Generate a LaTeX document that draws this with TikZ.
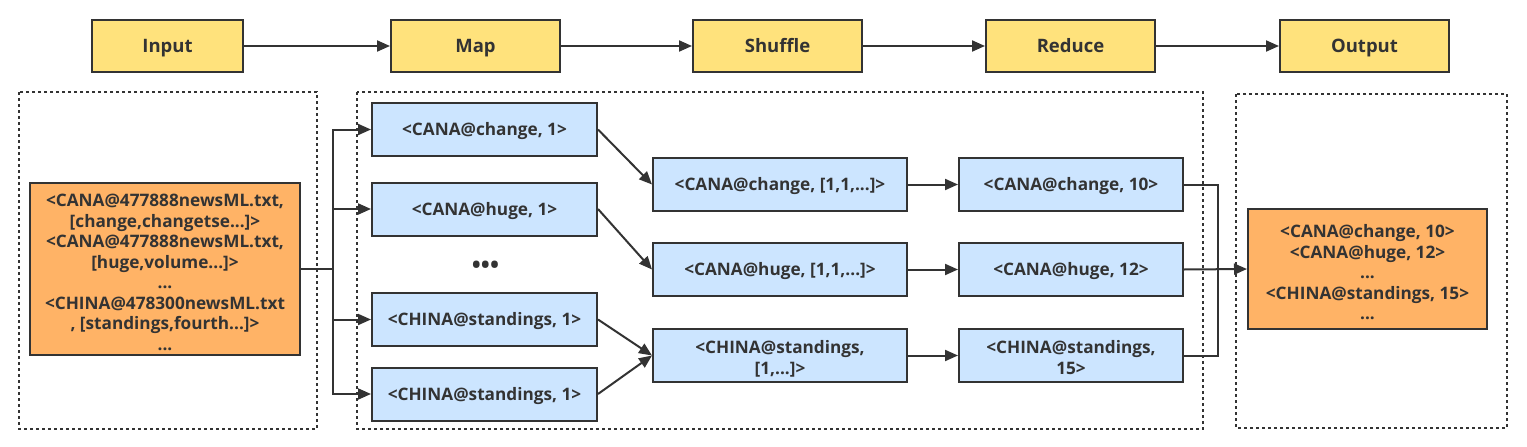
\documentclass[tikz,border=0pt]{standalone}
\usepackage{fontspec}
\setmainfont{Open Sans}
\usetikzlibrary{arrows.meta}
\definecolor{ylw}{HTML}{FFE27C}
\definecolor{org}{HTML}{FFB366}
\definecolor{blu}{HTML}{CCE5FF}
\definecolor{edge}{HTML}{333333}
\newcommand\tstrut[1]{\rule{0pt}{#1}}
\tikzset{
  base/.style={draw=edge, line width=2pt, text=edge, font=\bfseries\fontsize{17.2}{20.5}\selectfont, align=center, inner sep=0pt, anchor=center},
  oneline/.style={text height=12.3pt, text depth=-2.2pt},
  ybox/.style={base, fill=ylw, minimum height=52pt, font=\bfseries\fontsize{18.5}{22}\selectfont, text height=13.2pt, text depth=-2pt},
  obox/.style={base, fill=org},
  bbox/.style={base, fill=blu, minimum height=53pt},
  group/.style={draw=edge, line width=2pt, dash pattern=on 3pt off 3pt},
  conn/.style={draw=edge, line width=2pt},
  arr/.style={conn, -{Triangle[length=13pt,width=11pt]}},
}
\begin{document}
\begin{tikzpicture}[x=1pt,y=-1pt]
\useasboundingbox (0,0) rectangle (1527,447);
% groups
\draw[group] (19,92) rectangle (317,429);
\draw[group] (357,92) rectangle (1203,429);
\draw[group] (1236,94) rectangle (1507,428);
% top row
\node[ybox, minimum width=151pt] (tin) at (167.5,46) {Input};
\node[ybox, minimum width=169pt] (tmap) at (475.5,46) {Map};
\node[ybox, minimum width=169pt] (tsh) at (777.5,46) {Shuffle};
\node[ybox, minimum width=169pt] (tred) at (1070.5,46) {Reduce};
\node[ybox, minimum width=169pt] (tout) at (1364.5,46) {Output};
\draw[arr] (tin) -- (tmap);
\draw[arr] (tmap) -- (tsh);
\draw[arr] (tsh) -- (tred);
\draw[arr] (tred) -- (tout);
% input
\node[obox, minimum width=270pt, minimum height=172pt] (inL) at (165,269) {\tstrut{19.5pt}<CANA@477888newsML.txt,\\ {[}change,changetse...{]}>\\ <CANA@477888newsML.txt,\\ {[}huge,volume...{]}>\\ ...\\ <CHINA@478300newsML.txt\\ , {[}standings,fourth...{]}>\\ ...};
% map
\node[bbox, oneline, minimum width=225pt] (m1) at (484.5,129.5) {<CANA@change, 1>};
\node[bbox, oneline, minimum width=225pt] (m2) at (484.5,209) {<CANA@huge, 1>};
\node[text=edge, font=\bfseries\fontsize{24}{24}\selectfont, inner sep=0pt] (mdots) at (485.5,267) {•••};
\node[bbox, oneline, minimum width=225pt] (m3) at (484.5,319.5) {<CHINA@standings, 1>};
\node[bbox, oneline, minimum width=225pt] (m4) at (484.5,394) {<CHINA@standings, 1>};
% shuffle
\node[bbox, oneline, minimum width=254pt] (s1) at (780,184.5) {<CANA@change, {[}1,1,...{]}>};
\node[bbox, oneline, minimum width=254pt] (s2) at (780,269.5) {<CANA@huge, {[}1,1,...{]}>};
\node[bbox, minimum width=254pt] (s3) at (780,355.5) {\tstrut{20pt}<CHINA@standings,\\ {[}1,...{]}>};
% reduce
\node[bbox, oneline, minimum width=224pt] (r1) at (1071,184.5) {<CANA@change, 10>};
\node[bbox, oneline, minimum width=224pt] (r2) at (1071,269.5) {<CANA@huge, 12>};
\node[bbox, minimum width=224pt] (r3) at (1071,355.5) {\tstrut{17.5pt}<CHINA@standings,\\ 15>};
% output
\node[obox, minimum width=239pt, minimum height=120pt] (outR) at (1367.5,269) {\tstrut{20pt}<CANA@change, 10>\\ <CANA@huge, 12>\\ ...\\ <CHINA@standings, 15>\\ ...};
% input branches
\coordinate (br) at (333,269);
\draw[conn] (inL.east) -- (br);
\draw[conn] (br |- m1.west) -- (br |- m4.west);
\draw[arr] (br) |- (m1.west);
\draw[arr] (br) |- (m2.west);
\draw[arr] (br) |- (m3.west);
\draw[arr] (br) |- (m4.west);
% map -> shuffle
\draw[arr] (m1.east) -- (s1.west);
\draw[arr] (m2.east) -- (s2.west);
\draw[arr] (m3.east) -- (s3.west);
\draw[arr] (m4.east) -- (s3.west);
% shuffle -> reduce
\draw[arr] (s1) -- (r1);
\draw[arr] (s2) -- (r2);
\draw[arr] (s3) -- (r3);
% reduce -> output
\coordinate (jn) at (1218,269);
\draw[conn] (r1.east) -| (jn);
\draw[conn] (r3.east) -| (jn);
\draw[arr] (r2.east) -- (outR.west);
\end{tikzpicture}
\end{document}
